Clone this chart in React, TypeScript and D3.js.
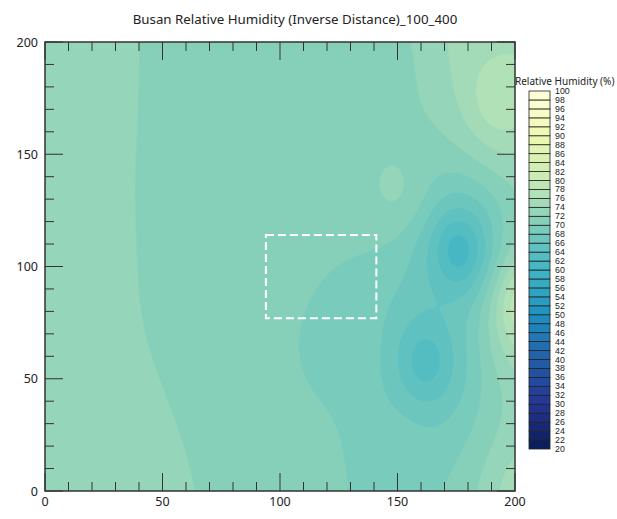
import React from "react";
import * as d3 from "d3";

// ---- data ----
const title = "Busan Relative Humidity (Inverse Distance)_100_400";
const legendTitle = "Relative Humidity (%)";
const axisTicks = [0, 50, 100, 150, 200];
const levels = d3.range(20, 101, 2); // 20..100
const ylgnbu = ["#ffffd9", "#edf8b1", "#c7e9b4", "#7fcdbb", "#41b6c4", "#1d91c0", "#225ea8", "#253494", "#081d58"];
const colorStops = [100, 90, 80, 70, 60, 50, 40, 30, 20];

// station observations (grid coordinates and relative humidity %)
const stationX = [176, 162, 205, 194, 148, 0, 0, 10, 30, 80, 80, 106, 140, 208, 148, 125, 188];
const stationY = [107, 58, 82, 177, 136, 180, 100, 15, -15, 175, 95, 15, 190, -5, 10, 62, 210];
const stationRH = [60.8, 62.8, 80, 77.9, 72.3, 73.5, 73.3, 73.6, 73.8, 71, 71, 71.3, 71, 76, 69.3, 69.3, 75.3];

// dashed study-area box
const boxX = [94, 141];
const boxY = [77, 114];

const W = 617, H = 519;
const M = { left: 45, right: 515, top: 42, bottom: 491 };

function idw(x: number, y: number) {
  let num = 0, den = 0;
  for (let i = 0; i < stationX.length; i++) {
    const dx = x - stationX[i];
    const dy = (y - stationY[i]) * 0.65;
    const d2 = dx * dx + dy * dy + 4;
    const w = 1 / d2;
    num += w * stationRH[i];
    den += w;
  }
  return num / den;
}

export default function App() {
  const xs = d3.scaleLinear().domain([0, 200]).range([M.left, M.right]);
  const ys = d3.scaleLinear().domain([0, 200]).range([M.bottom, M.top]);
  const color = d3.scaleLinear<string>().domain(colorStops).range(ylgnbu).interpolate(d3.interpolateRgb);

  const N = 200;
  const values: number[] = new Array(N * N);
  for (let j = 0; j < N; j++) {
    for (let i = 0; i < N; i++) {
      values[j * N + i] = idw(((i + 0.5) * 200) / N, ((j + 0.5) * 200) / N);
    }
  }
  const contours = d3.contours().size([N, N]).thresholds(levels.slice(0, -1))(values);
  const proj = d3.geoTransform({
    point: function (px: number, py: number) {
      (this as any).stream.point(xs((px * 200) / N), ys((py * 200) / N));
    },
  });
  const path = d3.geoPath(proj);

  const minor = d3.range(0, 201, 10);
  const barTop = 91, barBot = 449, barL = 529, barR = 550;
  const bs = d3.scaleLinear().domain([20, 100]).range([barBot, barTop]);
  const font = "'Noto Sans', 'Noto Sans CJK KR', sans-serif";

  return (
    <svg width={W} height={H} style={{ position: "absolute", left: 0, top: 0, background: "#fff" }}>
      <defs>
        <clipPath id="plot">
          <rect x={M.left} y={M.top} width={M.right - M.left} height={M.bottom - M.top} />
        </clipPath>
      </defs>
      <text x={295} y={24} textAnchor="middle" fontFamily={font} fontSize={13.3} fill="#222">{title}</text>
      <g clipPath="url(#plot)">
        {contours.map((c, k) => (
          <path key={k} d={path(c as any) || ""} fill={color(c.value + 1)} stroke={color(c.value + 1)} strokeWidth={0.5} />
        ))}
        <rect x={xs(boxX[0])} y={ys(boxY[1])} width={xs(boxX[1]) - xs(boxX[0])} height={ys(boxY[0]) - ys(boxY[1])}
          fill="none" stroke="#fff" strokeWidth={2} strokeDasharray="8,4" />
      </g>
      {minor.map((v) => {
        const len = v % 50 === 0 ? 18 : 9;
        return (
          <g key={v} stroke="#333" strokeWidth={1}>
            <line x1={xs(v)} x2={xs(v)} y1={M.bottom} y2={M.bottom - len} />
            <line x1={xs(v)} x2={xs(v)} y1={M.top} y2={M.top + len} />
            <line x1={M.left} x2={M.left + len} y1={ys(v)} y2={ys(v)} />
            <line x1={M.right} x2={M.right - len} y1={ys(v)} y2={ys(v)} />
          </g>
        );
      })}
      <rect x={M.left} y={M.top} width={M.right - M.left} height={M.bottom - M.top} fill="none" stroke="#333" strokeWidth={1.5} />
      {axisTicks.map((v) => (
        <g key={v} fontFamily={font} fontSize={12.5} fill="#222">
          <text x={xs(v)} y={506} textAnchor="middle">{v}</text>
          <text x={38} y={ys(v) + 4.5} textAnchor="end">{v}</text>
        </g>
      ))}
      <text x={515} y={84.5} fontFamily={font} fontSize={10} fill="#222">{legendTitle}</text>
      {levels.slice(0, -1).map((v) => (
        <rect key={v} x={barL} y={bs(v + 2)} width={barR - barL} height={bs(v) - bs(v + 2)} fill={color(v + 1)} stroke="#222" strokeWidth={0.8} />
      ))}
      {levels.map((v) => (
        <text key={v} x={555} y={bs(v) + 3} fontFamily="'Liberation Sans', Arial, sans-serif" fontSize={8.8} fill="#222">{v}</text>
      ))}
    </svg>
  );
}
